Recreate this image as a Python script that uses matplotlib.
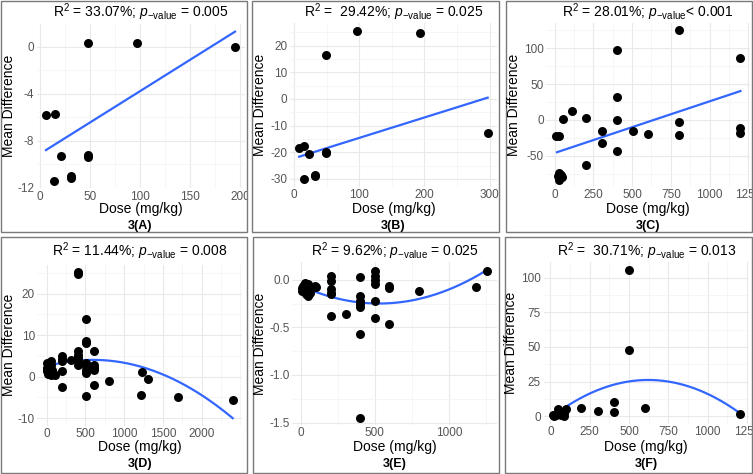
import matplotlib
matplotlib.use("Agg")
import matplotlib.pyplot as plt
import numpy as np
from matplotlib.patches import Rectangle
from matplotlib.ticker import FixedLocator, AutoMinorLocator, FormatStrFormatter
from matplotlib.transforms import Bbox, TransformedBbox

plt.rcParams['font.family'] = ['Liberation Sans', 'DejaVu Sans']
plt.rcParams['mathtext.fontset'] = 'custom'
plt.rcParams['mathtext.rm'] = 'Liberation Sans'
plt.rcParams['mathtext.it'] = 'Liberation Sans:italic'
plt.rcParams['mathtext.bf'] = 'Liberation Sans:bold'
plt.rcParams['axes.unicode_minus'] = False

W, H = 753, 474

# ---- data ----
# 3(A)
dose_a = [6, 15, 48, 97, 195, 21, 48, 48, 14, 31, 31]
diff_a = [-5.8, -5.7, 0.3, 0.3, 0.0, -9.3, -9.2, -9.4, -11.4, -11.05, -11.2]
fit_dose_a = [6, 195]
fit_diff_a = [-8.8, 1.3]

# 3(B)
dose_b = [8, 16, 23, 49, 49, 16, 33, 33, 49, 97, 193, 297]
diff_b = [-18.3, -17.7, -20.8, -19.8, -20.3, -30.1, -28.9, -28.4, 16.5, 25.7, 24.7, -12.9]
fit_dose_b = [8, 297]
fit_diff_b = [-21.7, 0.5]

# 3(C)
dose_c = [6, 28, 56, 109, 201, 201, 306, 306, 404, 404, 404, 404, 504, 605,
          803, 803, 803, 1200, 1200, 1200, 20, 30, 40, 50, 25]
diff_c = [-23, -23, 1.4, 12.5, 3.2, -62.5, -14.8, -32.4, 97.2, 31.5, 0, -42.6,
          -15.3, -19.4, 125, -2.3, -20.8, 87, -11.6, -18.5, -78, -83, -76, -80, -74]
fit_dose_c = [15, 1200]
fit_diff_c = [-44.9, 40.3]

# 3(D)
dose_d = [0, 0, 21, 52, 52, 65, 85, 107, 5, 10, 30, 40, 60,
          194, 201, 201, 201, 201, 310,
          408, 408, 408, 408, 408, 400, 400,
          503, 503, 503, 503, 503, 503, 503, 503,
          610, 610, 610, 610, 610, 808, 1226, 1213, 1303, 1698, 2400]
diff_d = [2.1, 1.3, 0.65, 3.7, 2.9, 1.7, 0.9, 0.5, 1.8, 3.3, 1.0, 2.5, 0.3,
          1.3, 4.9, 4.2, 3.7, -2.6, 4.1,
          6.1, 5.3, 4.5, 3.7, 2.9, 25.2, 24.7,
          13.9, 8.7, 8.2, 3.3, 2.5, 1.7, 0.9, -4.6,
          6.1, 2.9, 2.1, 1.5, -2.1, -1.0, 1.2, -4.4, -0.65, -5.0, -5.6]
fit_dose_d = [52, 473, 817, 1204, 1548, 1978, 2400]
fit_diff_d = [2.8, 3.84, 3.84, 2.64, 0.0, -4.2, -10.0]

# 3(E)
dose_e = [16, 27, 38, 50, 61, 34, 5, 95, 10, 45, 70, 100,
          200, 200, 200, 200, 200, 200, 304,
          399, 399, 399, 399, 399, 399, 399,
          500, 500, 500, 500, 500, 500,
          597, 597, 597, 795, 1187, 1261]
diff_e = [-0.066, -0.031, -0.10, -0.048, -0.134, -0.152, -0.083, -0.066, -0.12, -0.17, -0.09, -0.08,
          0.038, -0.014, -0.10, -0.134, -0.152, -0.376, -0.359,
          0.028, -0.169, -0.221, -0.255, -0.29, -0.572, -1.448,
          0.09, 0.038, 0.003, -0.048, -0.221, -0.40,
          -0.066, -0.09, -0.462, -0.121, -0.079, 0.093]
fit_dose_e = [63, 225, 405, 563, 788, 1014, 1261]
fit_diff_e = [-0.103, -0.19, -0.241, -0.248, -0.207, -0.086, 0.103]

# 3(F)
dose_f = [499, 499, 403, 403, 301, 195, 603, 1204,
          15, 36, 51, 68, 89, 100, 25, 89]
diff_f = [105.8, 48.1, 10.3, 3.1, 3.8, 6.25, 6.0, 1.9,
          0.7, 0.7, 5.5, 0.7, 0.0, 5.5, 0.2, 2.4]
fit_dose_f = [110, 323, 535, 641, 853, 1066, 1204]
fit_diff_f = [7.9, 20.0, 25.2, 26.0, 22.4, 13.9, 1.4]

titles = [
    r"$\mathrm{R}^2$ = 33.07%; $p_{-\mathrm{value}}$ = 0.005",
    r"$\mathrm{R}^2$ =  29.42%; $p_{-\mathrm{value}}$ = 0.025",
    r"$\mathrm{R}^2$ = 28.01%; $p_{-\mathrm{value}}$< 0.001",
    r"$\mathrm{R}^2$ = 11.44%; $p_{-\mathrm{value}}$ = 0.008",
    r"$\mathrm{R}^2$ = 9.62%; $p_{-\mathrm{value}}$ = 0.025",
    r"$\mathrm{R}^2$ =  30.71%; $p_{-\mathrm{value}}$ = 0.013",
]
panel_labels = ["3(A)", "3(B)", "3(C)", "3(D)", "3(E)", "3(F)"]

xticks = [[0, 50, 100, 150, 200], [0, 100, 200, 300], [0, 250, 500, 750, 1000, 1250],
          [0, 500, 1000, 1500, 2000], [0, 500, 1000], [0, 250, 500, 750, 1000, 1250]]
yticks = [[-12, -8, -4, 0], [-30, -20, -10, 0, 10, 20], [-50, 0, 50, 100],
          [-10, 0, 10, 20], [-1.5, -1.0, -0.5, 0.0], [0, 25, 50, 75, 100]]

series = [(dose_a, diff_a, fit_dose_a, fit_diff_a, 1),
          (dose_b, diff_b, fit_dose_b, fit_diff_b, 1),
          (dose_c, diff_c, fit_dose_c, fit_diff_c, 1),
          (dose_d, diff_d, fit_dose_d, fit_diff_d, 2),
          (dose_e, diff_e, fit_dose_e, fit_diff_e, 2),
          (dose_f, diff_f, fit_dose_f, fit_diff_f, 2)]

# ---- layout in pixels: panel box, plot area (l, t, r, b), y-label x ----
boxes = [(1, 1, 247, 232), (252, 1, 499, 232), (506, 1, 752, 232),
         (1, 237, 247, 473), (253, 237, 499, 473), (505, 237, 752, 473)]
plots = [(36.5, 24.2, 244.5, 188), (289.7, 23.2, 497.1, 186.5), (546.4, 22.8, 749.7, 187),
         (37.4, 264.7, 242, 425.5), (292.4, 262.3, 496.7, 425), (543.5, 262.2, 749, 423.7)]
ylab_x = [9, 260, 514.5, 9, 260.5, 511.5]
title_y = [17.3, 17.3, 17.3, 255.6, 255.6, 255.6]
xlab_y = [213.3, 213.3, 213.3, 451.5, 451.5, 451.5]
tag_y = [229.3, 229.3, 229.3, 466.8, 466.8, 466.8]

fig = plt.figure(figsize=(W / 100, H / 100), dpi=100)


def fx(px):
    return px / W


def fy(py):
    return 1 - py / H


axes = []
for i, (x, y, fit_x, fit_y, deg) in enumerate(series):
    l, t, r, b = plots[i]
    ax = fig.add_axes([fx(l), fy(b), (r - l) / W, (b - t) / H])
    coef = np.polyfit(fit_x, fit_y, deg)
    xs = np.linspace(min(fit_x), max(fit_x), 200)
    ax.plot(xs, np.polyval(coef, xs), color='#3366FF', lw=1.6, zorder=2)
    ax.scatter(x, y, s=42, color='black', linewidths=0, zorder=3)
    ax.margins(0.05)

    ax.xaxis.set_major_locator(FixedLocator(xticks[i]))
    ax.yaxis.set_major_locator(FixedLocator(yticks[i]))
    ax.xaxis.set_minor_locator(AutoMinorLocator(2))
    ax.yaxis.set_minor_locator(AutoMinorLocator(2))
    if i == 4:
        ax.yaxis.set_major_formatter(FormatStrFormatter('%.1f'))
    ax.grid(which='major', color='#e9e9e9', lw=0.8)
    ax.grid(which='minor', color='#f3f3f3', lw=0.5)
    ax.set_axisbelow(True)
    for s in ax.spines.values():
        s.set_visible(False)
    ax.tick_params(which='both', length=0, labelsize=8.5, labelcolor='#555555', pad=1.8)

    cx = (l + r) / 2
    bx0, by0, bx1, by1 = boxes[i]
    fig.text(fx(cx), fy(title_y[i]), titles[i], ha='center', va='baseline', fontsize=10)
    fig.text(fx(ylab_x[i]), fy((t + b) / 2), "Mean Difference", rotation=90,
             ha='center', va='center', fontsize=10)
    fig.text(fx(cx), fy(xlab_y[i]), "Dose (mg/kg)", ha='center', va='baseline', fontsize=10)
    fig.text(fx(cx), fy(tag_y[i]), panel_labels[i], ha='center', va='baseline',
             fontsize=9, fontweight='bold')
    fig.add_artist(Rectangle((fx(bx0), fy(by1)), (bx1 - bx0) / W, (by1 - by0) / H,
                             transform=fig.transFigure, fill=False, ec='#7a7a7a', lw=1.0))
    axes.append(ax)

fig.canvas.draw()
for i, ax in enumerate(axes):
    bx0, by0, bx1, by1 = boxes[i]
    clip = TransformedBbox(Bbox.from_extents(fx(bx0), fy(by1), fx(bx1), fy(by0)), fig.transFigure)
    for lbl in ax.get_xticklabels() + ax.get_yticklabels():
        lbl.set_clip_box(clip)
        lbl.set_clip_on(True)

fig.savefig("out.png", dpi=100)
